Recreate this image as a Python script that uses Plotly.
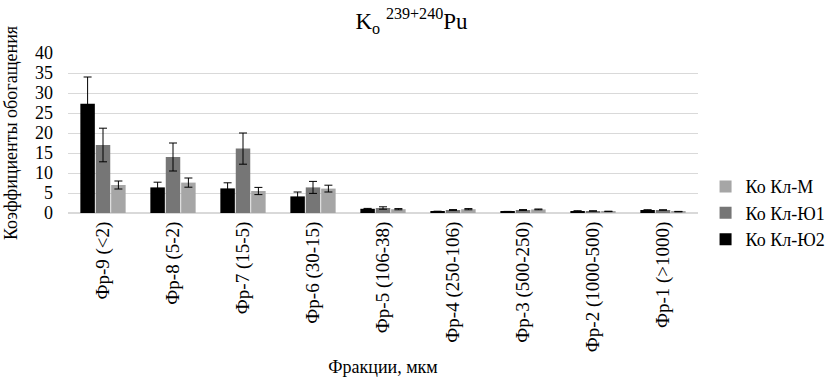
import plotly.graph_objects as go

categories = ["Фр-9 (<2)", "Фр-8 (5-2)", "Фр-7 (15-5)", "Фр-6 (30-15)", "Фр-5 (106-38)",
              "Фр-4 (250-106)", "Фр-3 (500-250)", "Фр-2 (1000-500)", "Фр-1 (>1000)"]

ko_yu2 = [27.3, 6.4, 6.15, 4.15, 1.05, 0.4, 0.35, 0.5, 0.75]
ko_yu2_err = [6.7, 1.3, 1.4, 1.1, 0.1, 0.05, 0.05, 0.05, 0.05]

ko_yu1 = [17.0, 14.0, 16.1, 6.4, 1.25, 0.75, 0.75, 0.5, 0.75]
ko_yu1_err = [4.2, 3.5, 3.9, 1.5, 0.3, 0.1, 0.1, 0.05, 0.05]

ko_m = [7.0, 7.6, 5.5, 6.1, 0.95, 0.95, 0.9, 0.4, 0.35]
ko_m_err = [1.0, 1.15, 0.9, 0.85, 0.15, 0.15, 0.1, 0.05, 0.05]

series_names = ["Ко Кл-Ю2", "Ко Кл-Ю1", "Ко Кл-М"]
colors = ["#000000", "#767676", "#a6a6a6"]

fig = go.Figure()
for name, vals, errs, col in zip(series_names, [ko_yu2, ko_yu1, ko_m],
                                 [ko_yu2_err, ko_yu1_err, ko_m_err], colors):
    fig.add_trace(go.Bar(
        x=categories, y=vals, name=name, marker_color=col, marker_line_width=0,
        error_y=dict(type="data", array=errs, visible=True, color="#000000",
                     thickness=1, width=4),
    ))

font_family = "Liberation Serif"
fig.update_layout(
    width=828, height=380,
    paper_bgcolor="white", plot_bgcolor="white",
    margin=dict(l=68, r=130, t=53, b=167, autoexpand=False),
    barmode="group", bargap=0.34, bargroupgap=0.06,
    font=dict(family=font_family, size=18, color="#000000"),
    title=dict(text="K<sub>o</sub> <sup>239+240</sup>Pu", x=0.497, xanchor="center",
               y=0.945, yanchor="middle", font=dict(size=23, family=font_family)),
    legend=dict(traceorder="reversed", x=1.012, xanchor="left", y=0.28, yanchor="top",
                font=dict(size=18, family=font_family), itemwidth=30, tracegroupgap=0,
                bgcolor="rgba(0,0,0,0)"),
    showlegend=True,
)
fig.update_xaxes(tickangle=-90, showline=True, linecolor="#d9d9d9", linewidth=1,
                 ticks="", tickfont=dict(size=19, family=font_family),
                 title=dict(text="Фракции, мкм", font=dict(size=18, family=font_family), standoff=9))
fig.update_yaxes(range=[0, 40], dtick=5, showgrid=True, gridcolor="#d9d9d9", gridwidth=1,
                 zeroline=True, zerolinecolor="#d9d9d9", ticks="", ticklabelstandoff=14,
                 tickfont=dict(size=18, family=font_family),
                 title=dict(text="Коэффициенты обогащения", font=dict(size=18, family=font_family), standoff=12))

fig.write_html("out.html", config={"displayModeBar": False},
               post_script="document.body.style.margin='0';document.body.style.overflow='hidden';")
